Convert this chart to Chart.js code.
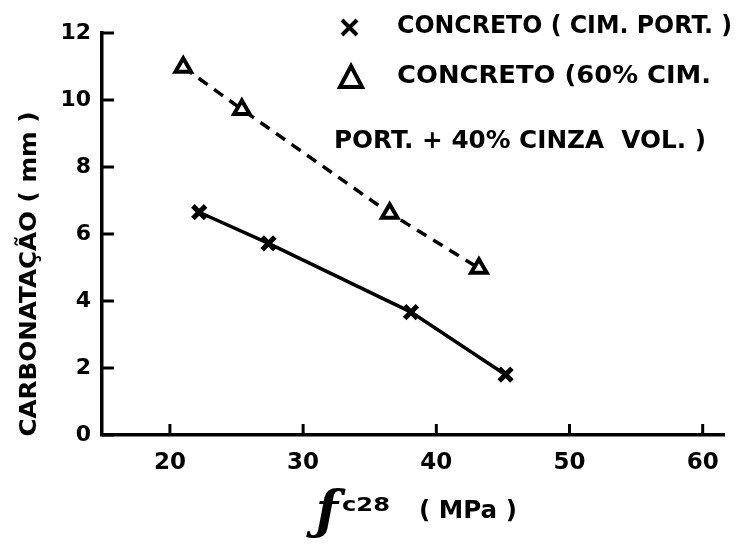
<!DOCTYPE html>
<html>
<head>
<meta charset="utf-8">
<script src="https://cdn.jsdelivr.net/npm/chart.js@4.4.1/dist/chart.umd.min.js"></script>
<style>
html,body{margin:0;padding:0;background:#fff;}
#wrap{width:738px;height:544px;position:relative;}
</style>
</head>
<body>
<div id="wrap"><canvas id="c" width="738" height="544"></canvas></div>
<script>
// Data
const portlandX = [22.2, 27.4, 38.1, 45.2];
const portlandY = [6.65, 5.72, 3.67, 1.8];
const flyAshX = [21.0, 25.4, 36.5, 43.2];
const flyAshY = [10.98, 9.72, 6.62, 4.98];
const xTicks = [20, 30, 40, 50, 60];
const yTicks = [0, 2, 4, 6, 8, 10, 12];
const legendLabels = ['CONCRETO ( CIM. PORT. )', 'CONCRETO (60% CIM.', 'PORT. + 40% CINZA  VOL. )'];
const yTitle = 'CARBONATAÇÃO ( mm )';
const xTitle = ['c28', '( MPa )'];

const FONT = 'DejaVu Sans';

function fitText(ctx, text, x, y, width, size, align) {
  ctx.save();
  ctx.font = 'bold ' + size + 'px "' + FONT + '"';
  const w = ctx.measureText(text).width;
  const sx = width / w;
  ctx.translate(x, y);
  ctx.scale(sx, 1);
  ctx.textAlign = align || 'left';
  ctx.textBaseline = 'middle';
  ctx.fillStyle = '#000';
  ctx.fillText(text, 0, 0);
  ctx.restore();
}

const decor = {
  id: 'decor',
  afterDraw(chart) {
    const ctx = chart.ctx;
    const xs = chart.scales.x, ys = chart.scales.y;
    ctx.save();
    ctx.strokeStyle = '#000';
    ctx.lineWidth = 3;
    ctx.lineCap = 'butt';
    // inward ticks
    yTicks.forEach(v => {
      const py = ys.getPixelForValue(v);
      ctx.beginPath(); ctx.moveTo(xs.left, py); ctx.lineTo(xs.left + 12, py); ctx.stroke();
    });
    xTicks.forEach(v => {
      const px = xs.getPixelForValue(v);
      ctx.beginPath(); ctx.moveTo(px, ys.bottom); ctx.lineTo(px, ys.bottom - 11); ctx.stroke();
    });
    // legend markers
    ctx.lineWidth = 4;
    ctx.beginPath();
    ctx.moveTo(342, 20); ctx.lineTo(357, 35);
    ctx.moveTo(357, 20); ctx.lineTo(342, 35);
    ctx.stroke();
    ctx.lineWidth = 4;
    ctx.lineJoin = 'miter';
    ctx.beginPath();
    ctx.moveTo(351, 66); ctx.lineTo(362, 87); ctx.lineTo(340, 87); ctx.closePath();
    ctx.stroke();
    fitText(ctx, legendLabels[0], 397, 27, 335, 24);
    fitText(ctx, legendLabels[1], 397, 77, 314, 24);
    fitText(ctx, legendLabels[2], 334, 142, 372, 24);
    // y title
    ctx.save();
    ctx.translate(30, 274);
    ctx.rotate(-Math.PI / 2);
    fitText(ctx, yTitle, 0, 0, 325, 23, 'center');
    ctx.restore();
    // x title
    ctx.save();
    ctx.font = 'italic bold 52px "DejaVu Serif"';
    ctx.fillStyle = '#000';
    ctx.textBaseline = 'middle';
    ctx.textAlign = 'center';
    ctx.fillText('ƒ', 327, 514);
    ctx.restore();
    fitText(ctx, xTitle[0], 342, 506, 48, 20);
    fitText(ctx, xTitle[1], 419, 512, 98, 24);
    ctx.restore();
  }
};

new Chart(document.getElementById('c'), {
  type: 'scatter',
  data: {
    datasets: [
      {
        label: legendLabels[0],
        data: portlandX.map((x, i) => ({x, y: portlandY[i]})),
        showLine: true,
        borderColor: '#000',
        borderWidth: 3.5,
        pointStyle: 'crossRot',
        pointRadius: 9,
        pointBorderWidth: 5,
        pointBorderColor: '#000',
        pointBackgroundColor: '#000'
      },
      {
        label: legendLabels[1],
        data: flyAshX.map((x, i) => ({x, y: flyAshY[i]})),
        showLine: true,
        borderColor: '#000',
        borderWidth: 3.5,
        borderDash: [11, 8],
        pointStyle: 'triangle',
        pointRadius: 9,
        pointBorderWidth: 4,
        pointBorderColor: '#000',
        pointBackgroundColor: '#fff'
      }
    ]
  },
  options: {
    responsive: false,
    animation: false,
    devicePixelRatio: 1,
    layout: { padding: { top: 33, right: 9, left: 0, bottom: 0 } },
    plugins: { legend: { display: false }, tooltip: { enabled: false } },
    scales: {
      x: {
        type: 'linear',
        min: 14.9,
        max: 61.6,
        afterBuildTicks: s => { s.ticks = xTicks.map(v => ({value: v})); },
        afterFit: s => { s.height = 109; },
        grid: { display: false, drawTicks: false },
        border: { display: true, color: '#000', width: 3.5 },
        ticks: {
          color: '#000',
          padding: 14,
          font: { family: FONT, size: 23, weight: 'bold' }
        }
      },
      y: {
        type: 'linear',
        min: 0,
        max: 12,
        afterBuildTicks: s => { s.ticks = yTicks.map(v => ({value: v})); },
        afterFit: s => { s.width = 102; },
        grid: { display: false, drawTicks: false },
        border: { display: true, color: '#000', width: 3.5 },
        ticks: {
          color: '#000',
          padding: 11,
          font: { family: FONT, size: 22, weight: 'bold' }
        }
      }
    }
  },
  plugins: [decor]
});
</script>
</body>
</html>
